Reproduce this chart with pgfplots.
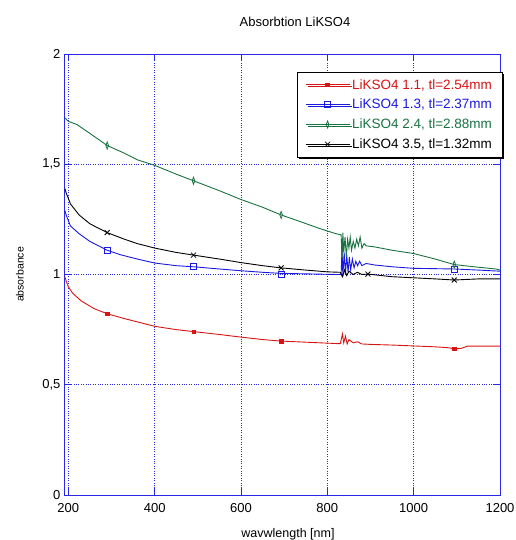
\documentclass[border=0pt]{standalone}
\usepackage{pgfplots}
\pgfplotsset{compat=1.18}
\usepackage{fontspec}
\setmainfont{Liberation Sans}
\usetikzlibrary{shadows}

\definecolor{cred}{RGB}{215,20,20}
\definecolor{cblue}{RGB}{25,25,225}
\definecolor{cgreen}{RGB}{25,115,65}
\definecolor{caxis}{RGB}{40,40,230}

\begin{document}
\begin{tikzpicture}
\begin{axis}[
  scale only axis, width=436pt, height=441pt,
  xmin=190, xmax=1200, ymin=0, ymax=2,
  xtick={200,400,...,1200}, ytick={0,0.5,...,2},
  /pgf/number format/use comma,
  /pgf/number format/1000 sep={},
  /pgf/number format/assume math mode=true,
  ticklabel style={font=\fontsize{13}{15}\selectfont},
  xticklabel style={yshift=-5pt},
  axis line style={caxis, line width=0.9pt},
  tick style={caxis, line width=0.9pt},
  major tick length=7pt, tick align=inside,
  grid=major, grid style={caxis, dotted, line width=0.9pt},
  title={Absorbtion LiKSO4},
  title style={font=\fontsize{13}{15}\selectfont, at={(axis description cs:0.5,1)}, anchor=base, yshift=21pt, xshift=13pt},
  xlabel={wavwlength [nm]},
  xlabel style={font=\fontsize{12.5}{14}\selectfont, at={(axis description cs:0.5,0)}, anchor=base, yshift=-42pt, xshift=6pt},
  ylabel={absorbance},
  ylabel style={font=\fontsize{10.5}{12}\selectfont, at={(axis description cs:-0.101,0.5)}, anchor=center},
  legend style={at={(rel axis cs:1.005,0.959)}, anchor=north east, draw=black, fill=white,
    font=\fontsize{13.5}{15}\selectfont, row sep=4.5pt, inner xsep=8pt, inner ysep=5pt,
    drop shadow={shadow xshift=2pt, shadow yshift=-2pt, fill=black, opacity=1}},
  legend cell align=left,
  legend image code/.code={\draw[mark repeat=2, mark phase=2] plot coordinates {(0pt,0pt) (22pt,0pt) (44pt,0pt)};},
]
\coordinate (sw) at (rel axis cs:0,0);
\coordinate (ne) at (rel axis cs:1,1);

\addlegendimage{cred, line width=0.9pt, mark=square*, mark size=1.8pt}
\addlegendentry{\textcolor{cred}{LiKSO4 1.1, tl=2.54mm}}
\addlegendimage{cblue, line width=0.9pt, mark=square, mark size=3pt, mark options={line width=0.8pt}}
\addlegendentry{\textcolor{cblue}{LiKSO4 1.3, tl=2.37mm}}
\addlegendimage{cgreen, line width=0.9pt, mark=diamond, mark size=3.5pt, mark options={xscale=0.5, line width=0.8pt}}
\addlegendentry{\textcolor{cgreen}{LiKSO4 2.4, tl=2.88mm}}
\addlegendimage{black, line width=0.9pt, mark=x, mark size=3.5pt, mark options={line width=0.8pt}}
\addlegendentry{LiKSO4 3.5, tl=1.32mm}

% red
\addplot[cred, line width=0.9pt, forget plot] coordinates {
(192,0.99)(195,0.97)(200,0.945)(210,0.915)(230,0.88)(260,0.845)(290,0.822)(330,0.8)
(360,0.785)(400,0.765)(450,0.75)(490,0.741)(550,0.728)(600,0.716)(650,0.705)(693,0.698)
(750,0.693)(797,0.689)(830,0.686)(835,0.73)(838,0.69)(842,0.72)(846,0.685)(850,0.705)
(860,0.69)(870,0.695)(880,0.685)(900,0.683)(950,0.68)(1000,0.676)(1050,0.672)(1080,0.668)
(1094,0.663)(1110,0.665)(1125,0.675)(1200,0.675)};
\addplot[cred, only marks, mark=square*, mark size=1.8pt, forget plot] coordinates {
(290,0.822)(490,0.741)(693,0.698)(1094,0.663)};

% blue
\addplot[cblue, line width=0.9pt, forget plot] coordinates {
(192,1.29)(195,1.27)(205,1.22)(225,1.185)(250,1.15)(290,1.11)(320,1.09)(360,1.07)
(400,1.052)(450,1.04)(490,1.035)(550,1.025)(600,1.017)(650,1.01)(693,1.005)(750,1.003)
(820,1.0)(832,1.0)(834,1.12)(836,0.99)(839,1.1)(842,1.0)(845,1.09)(848,1.01)(851,1.08)
(854,1.02)(858,1.07)(862,1.03)(866,1.06)(870,1.04)(875,1.06)(880,1.04)(890,1.05)
(910,1.043)(950,1.035)(1000,1.028)(1094,1.025)(1150,1.02)(1200,1.015)};
\addplot[cblue, only marks, mark=square, mark size=3pt, mark options={line width=0.8pt}, forget plot] coordinates {
(290,1.11)(490,1.035)(693,1.0)(1094,1.025)};

% green
\addplot[cgreen, line width=0.9pt, forget plot] coordinates {
(192,1.71)(200,1.695)(220,1.68)(250,1.64)(290,1.585)(330,1.55)(360,1.52)(400,1.495)
(450,1.455)(490,1.425)(550,1.38)(600,1.34)(650,1.305)(693,1.27)(730,1.245)(780,1.21)
(820,1.185)(832,1.18)(834,1.07)(836,1.19)(838,1.1)(841,1.17)(844,1.08)(847,1.16)
(850,1.12)(853,1.17)(856,1.11)(860,1.15)(864,1.12)(868,1.16)(872,1.13)(876,1.17)
(880,1.12)(885,1.14)(890,1.13)(910,1.125)(950,1.11)(1000,1.095)(1050,1.07)(1094,1.045)
(1140,1.035)(1190,1.025)(1200,1.02)};
\addplot[cgreen, only marks, mark=diamond, mark size=3.5pt, mark options={xscale=0.5, line width=0.8pt}, forget plot] coordinates {
(290,1.585)(490,1.425)(693,1.27)(1094,1.045)};

% black
\addplot[black, line width=0.9pt, forget plot] coordinates {
(192,1.39)(195,1.37)(205,1.32)(225,1.27)(250,1.23)(290,1.19)(330,1.16)(360,1.14)
(400,1.12)(450,1.1)(490,1.088)(550,1.07)(600,1.054)(650,1.04)(693,1.03)(750,1.02)
(800,1.012)(830,1.01)(835,0.99)(840,1.02)(845,0.995)(850,1.015)(860,1.0)(870,1.01)
(880,1.0)(894,1.002)(950,0.99)(1000,0.985)(1050,0.98)(1094,0.975)(1150,0.98)(1200,0.98)};
\addplot[black, only marks, mark=x, mark size=3.5pt, mark options={line width=0.8pt}, forget plot] coordinates {
(290,1.19)(490,1.088)(693,1.03)(894,1.002)(1094,0.975)};
\end{axis}
\pgfresetboundingbox
\path[use as bounding box] ([xshift=-64pt,yshift=-45pt]sw) rectangle ([xshift=15pt,yshift=54pt]ne);
\end{tikzpicture}
\end{document}
